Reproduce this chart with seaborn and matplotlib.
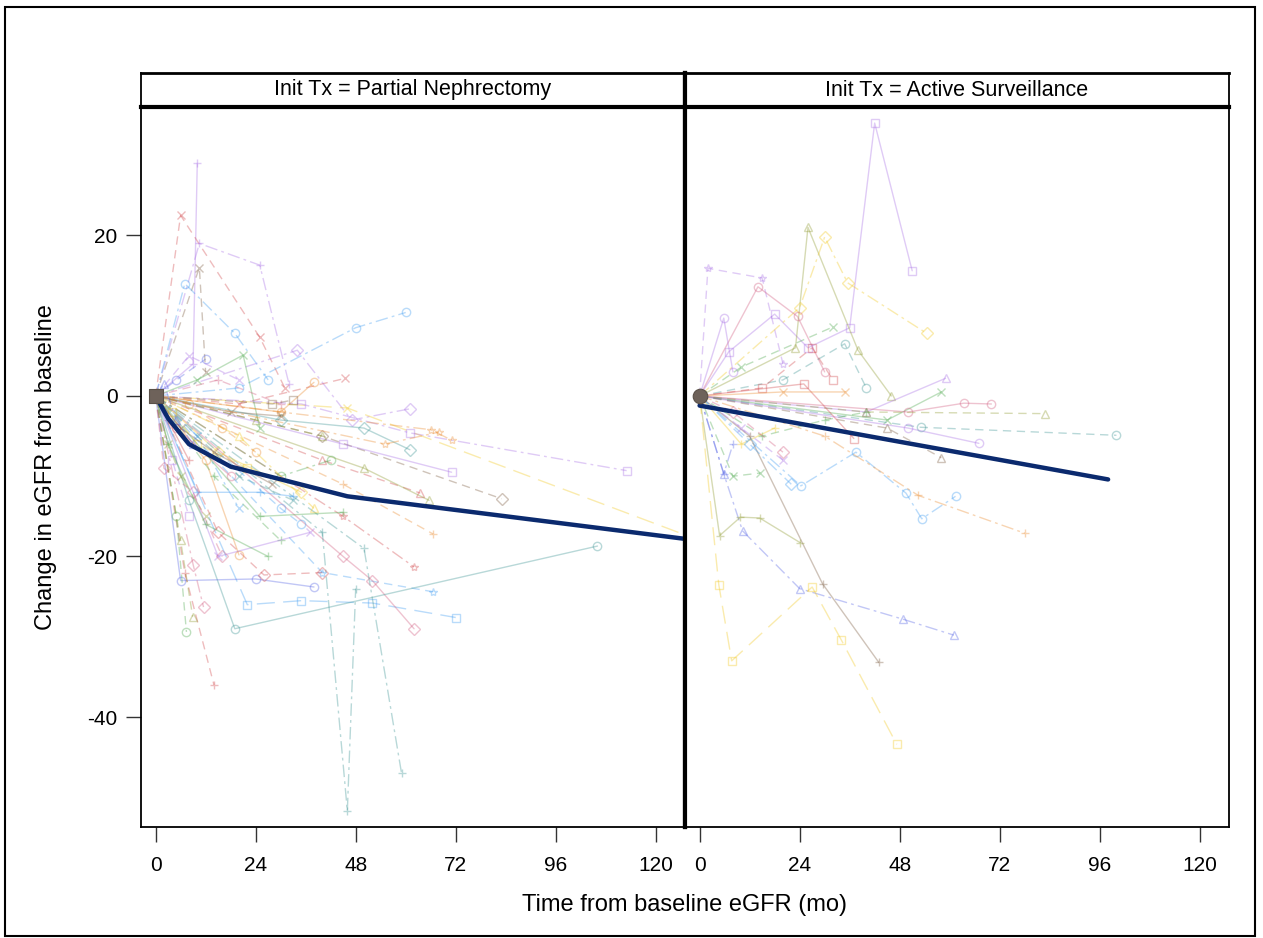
import numpy as np
import pandas as pd
import matplotlib
matplotlib.use("Agg")
import matplotlib.pyplot as plt
from matplotlib.patches import Rectangle
import seaborn as sns

sns.set_style("white")
plt.rcParams['font.family'] = ['Liberation Sans', 'DejaVu Sans']
plt.rcParams['axes.unicode_minus'] = False
plt.rcParams['text.color'] = 'black'
plt.rcParams['axes.labelcolor'] = 'black'
plt.rcParams['xtick.labelcolor'] = 'black'
plt.rcParams['ytick.labelcolor'] = 'black'

# Panels (initial treatment)
panels = ["Partial Nephrectomy", "Active Surveillance"]

# Individual patient trajectories: months, change in eGFR
pn_times = [
    [0, 9, 10], [0, 6, 25, 31], [0, 10.5, 25, 32], [0, 10.5, 12], [0, 7, 19, 27],
    [0, 20, 48, 60], [0, 34, 47, 61], [0, 20, 45.5], [0, 30, 38], [0, 10, 21, 25],
    [0, 15, 30], [0, 46, 128], [0, 35, 61, 113], [0, 30, 66, 71], [0, 40, 83],
    [0, 30, 50, 61], [0, 45, 71], [0, 40, 63.5], [0, 50, 65.6], [0, 45, 66.6],
    [0, 45, 62], [0, 40, 66.6], [0, 22, 35, 52, 72], [0, 45, 52, 62], [0, 8, 19, 106],
    [0, 6, 24, 38], [0, 7, 14], [0, 5, 7.4], [0, 6, 8.9], [0, 9, 11.5],
    [0, 40, 46, 48], [0, 50, 59], [0, 15, 26, 40], [0, 12, 20], [0, 14, 30],
    [0, 10, 20], [0, 4, 8], [0, 18, 30], [0, 24, 40], [0, 5, 12],
    [0, 15, 35], [0, 20, 33], [0, 3, 8], [0, 10, 25, 33], [0, 30, 42],
    [0, 55, 68], [0, 8, 20], [0, 28, 33], [0, 5, 18], [0, 20, 38],
    [0, 25, 45], [0, 30, 35], [0, 15, 37], [0, 3, 6, 12], [0, 2, 9, 16],
    [0, 4, 10, 22], [0, 6, 14, 28], [0, 2, 5, 9], [0, 8, 16, 24], [0, 3, 12, 27],
]
pn_change = [
    [0, 4, 29], [0, 22.5, 7.3, 1], [0, 19, 16.3, 1.5], [0, 16, 3], [0, 14, 7.8, 2],
    [0, 1, 8.5, 10.4], [0, 5.7, -3, -1.6], [0, -1, 2.2], [0, -2, 1.7], [0, 2, 5.1, -4],
    [0, 2, -1], [0, -1.5, -17.5], [0, -1, -4.6, -9.3], [0, -2, -4.2, -5.5], [0, -5, -12.8],
    [0, -3, -4, -6.7], [0, -6, -9.5], [0, -8, -12.1], [0, -9, -13], [0, -11, -17.2],
    [0, -15, -21.3], [0, -22, -24.4], [0, -26, -25.5, -25.8, -27.6], [0, -20, -23, -29], [0, -13, -29, -18.7],
    [0, -23, -22.8, -23.8], [0, -22, -36], [0, -15, -29.4], [0, -18, -27.5], [0, -21, -26.3],
    [0, -17, -51.7, -24], [0, -19, -47], [0, -17, -22.3, -22], [0, -8, -19.8], [0, -10, -18],
    [0, -5, -14], [0, -8, -15], [0, -2, -2.5], [0, -3, -5], [0, 2, 4.6],
    [0, -7, -12], [0, -10, -13], [0, -3, -8], [0, -12, -12, -12.5], [0, -10, -8],
    [0, -6, -4.5], [0, 5, 2], [0, -1, -0.5], [0, -4, -10], [0, -5, -14],
    [0, -15, -14.5], [0, -14, -16], [0, -20, -17], [0, -6, -10, -15], [0, -9, -12, -20],
    [0, -2, -6, -9], [0, -4, -7, -11], [0, 1.5, -3, -6], [0, -1, -4, -7], [0, -6, -16, -20],
]

as_times = [
    [0, 7, 18, 26, 36, 42, 51], [0, 23, 26, 38, 46], [0, 24, 30, 35.5, 54.5], [0, 2, 15, 20],
    [0, 14, 23.5, 30], [0, 5.8, 8], [0, 10, 32], [0, 20, 34.8, 40], [0, 15, 27, 32],
    [0, 40, 59], [0, 45, 58], [0, 50, 63.4, 70], [0, 40, 82.8], [0, 53, 100],
    [0, 50, 67], [0, 45, 58], [0, 25, 37], [0, 24.3, 37.5, 49.5, 53.3, 61.4], [0, 30, 52.5, 78],
    [0, 5.8, 10.3, 24, 48.7, 61], [0, 12, 29.5, 43], [0, 4.8, 9.8, 14.4, 24.2],
    [0, 4.6, 7.7, 27, 34, 47.3], [0, 5.8, 8], [0, 20, 35], [0, 15, 30, 40], [0, 10, 20],
    [0, 10, 18], [0, 8, 20], [0, 8, 14.6], [0, 12, 22],
]
as_change = [
    [0, 5.5, 10.2, 6, 8.5, 34, 15.6], [0, 6, 21, 5.7, 0], [0, 11, 19.8, 14.1, 7.8], [0, 15.9, 14.7, 4],
    [0, 13.6, 9.9, 3], [0, 9.7, 3], [0, 3.6, 8.6], [0, 2, 6.5, 1], [0, 1, 6, 2],
    [0, -2, 2.2], [0, -3, 0.5], [0, -2, -0.9, -1], [0, -2, -2.2], [0, -3.9, -4.9],
    [0, -4, -5.9], [0, -4, -7.7], [0, 1.5, -5.3], [0, -11.2, -7, -12.1, -15.3, -12.5], [0, -5, -12.4, -17.1],
    [0, -9.7, -16.8, -24, -27.8, -29.8], [0, -5, -23.4, -33.2], [0, -17.4, -15.1, -15.2, -18.3],
    [0, -23.5, -33, -23.8, -30.4, -43.4], [0, -9.7, -6], [0, 0.5, 0.5], [0, -5, -3, -2], [0, -4, -8],
    [0, -6, -4], [0, -2, -7], [0, -10, -9.6], [0, -6, -11],
]

# Mean trend per panel
pn_mean_time = [0, 3, 8, 18, 46, 130]
pn_mean_change = [0, -2.8, -6.0, -8.8, -12.5, -18.0]
as_mean_time = [0, 98]
as_mean_change = [-1.2, -10.4]

# Look of each patient line: colour key, marker, line pattern
pn_color = ['lav', 'red', 'lav', 'brown', 'lblue', 'lblue', 'lav', 'red', 'orange', 'grn',
            'pink', 'yel', 'lav', 'orange', 'brown', 'teal', 'lav', 'red', 'olive', 'orange',
            'red', 'lblue', 'lblue', 'pink', 'teal', 'blue', 'red', 'grn', 'olive', 'pink',
            'teal', 'teal', 'red', 'orange', 'grn', 'lblue', 'lav', 'brown', 'olive', 'blue',
            'yel', 'teal', 'red', 'lblue', 'grn', 'orange', 'lav', 'brown', 'pink', 'yel',
            'grn', 'lblue', 'lav', 'olive', 'pink',
            'yel', 'brown', 'blue', 'orange', 'grn']
pn_marker = ['+', 'x', '+', 'x', 'o', 'o', 'D', 'x', 'o', 'x',
             '+', 'x', 's', '*', 'D', 'D', 's', '^', '^', '+',
             '*', '*', 's', 'D', 'o', 'o', '+', 'o', '^', 'D',
             '+', '+', 'D', 'o', '+', 'x', 's', 'x', '^', 'o',
             'D', 'x', '+', '+', 'o', '*', 'x', 's', 'o', '^',
             '+', 'o', 'x', 'x', 'D',
             's', 'x', '^', 'o', '+']
pn_line = ['solid', 'dash', 'dashdot', 'dash', 'dashdot', 'dashdot', 'dashdot', 'dash', 'solid', 'solid',
           'dash', 'longdash', 'dashdot', 'dashdot', 'dash', 'solid', 'solid', 'dash', 'solid', 'dash',
           'dashdot', 'dash', 'longdash', 'solid', 'solid', 'solid', 'dash', 'dash', 'dash', 'dashdot',
           'dashdot', 'dashdot', 'dash', 'solid', 'dash', 'dashdot', 'dash', 'solid', 'dash', 'dash',
           'solid', 'dash', 'solid', 'solid', 'dashdot', 'dashdot', 'dash', 'dash', 'solid', 'dashdot',
           'solid', 'dash', 'solid', 'longdash', 'dash',
           'dash', 'solid', 'dashdot', 'dash', 'solid']

as_color = ['lav', 'olive', 'yel', 'lav', 'pink', 'lav', 'grn', 'teal', 'red', 'lav',
            'grn', 'pink', 'olive', 'teal', 'lav', 'brown', 'red', 'lblue', 'orange', 'blue',
            'brown', 'olive', 'yel', 'blue', 'orange', 'grn', 'lav', 'yel', 'pink', 'grn', 'lblue']
as_marker = ['s', '^', 'D', '*', 'o', 'o', 'x', 'o', 's', '^',
             'x', 'o', '^', 'o', 'o', '^', 's', 'o', '+', '^',
             '+', '+', 's', '+', 'x', '+', 'x', '+', 'D', 'x', 'D']
as_line = ['solid', 'solid', 'dashdot', 'dash', 'solid', 'solid', 'dash', 'dash', 'dash', 'solid',
           'solid', 'solid', 'dash', 'dash', 'solid', 'dash', 'solid', 'dashdot', 'dashdot', 'dashdot',
           'solid', 'solid', 'longdash', 'dashdot', 'solid', 'dash', 'dash', 'solid', 'dash', 'dash', 'dashdot']

palette = {'lav': '#A86FE6', 'red': '#D2464A', 'lblue': '#3F9CF2', 'yel': '#F2C81E',
           'grn': '#4CA84C', 'teal': '#3C9494', 'olive': '#8E9A2E', 'brown': '#7A5A3E',
           'pink': '#D25A7E', 'orange': '#EB8A2C', 'blue': '#5564E6'}
patterns = {'solid': '-', 'dash': (0, (6, 4)), 'dashdot': (0, (9, 3, 2, 3)),
            'longdash': (0, (13, 6))}


def long_table(times, change, name):
    rows = []
    for i, (t, v) in enumerate(zip(times, change)):
        for tt, vv in zip(t, v):
            rows.append((name, i, tt, vv))
    return pd.DataFrame(rows, columns=["panel", "patient", "time", "change"])


df = pd.concat([long_table(pn_times, pn_change, panels[0]),
                long_table(as_times, as_change, panels[1])])
looks = {panels[0]: (pn_color, pn_marker, pn_line), panels[1]: (as_color, as_marker, as_line)}

W, H = 1263, 938
fig = plt.figure(figsize=(W / 100, H / 100), dpi=100)

ax_l = fig.add_axes([141 / W, 1 - 827 / H, 544 / W, 720 / H])
ax_r = fig.add_axes([685 / W, 1 - 827 / H, 544 / W, 720 / H])

means = {panels[0]: (pn_mean_time, pn_mean_change), panels[1]: (as_mean_time, as_mean_change)}
base_marker = {panels[0]: 's', panels[1]: 'o'}

for ax, name in zip([ax_l, ax_r], panels):
    sub = df[df.panel == name]
    cols, mks, lns = looks[name]
    for pid, g in sub.groupby("patient"):
        c = palette[cols[pid]]
        sns.lineplot(data=g, x="time", y="change", ax=ax, estimator=None, sort=False,
                     color=c, linestyle=patterns[lns[pid]],
                     marker=mks[pid], markersize=6, markerfacecolor='none',
                     markeredgewidth=1.0, markeredgecolor=c,
                     linewidth=1.0, alpha=0.36, legend=False)
    mt, mc = means[name]
    sns.lineplot(x=mt, y=mc, ax=ax, color='#0B2A6E', linewidth=3.2, estimator=None,
                 sort=False, legend=False, zorder=5)
    sns.scatterplot(x=[0], y=[0], ax=ax, marker=base_marker[name], s=110,
                    color='#6E625A', edgecolor='#5A5048', linewidth=0.8, zorder=6, legend=False)

    ax.set_xlim(-3.5, 127)
    ax.set_ylim(-53.7, 36)
    ax.set_xticks([0, 24, 48, 72, 96, 120])
    ax.tick_params(axis='x', direction='out', length=11, width=1.0, labelsize=15, pad=10,
                   bottom=True, color='#333333')
    ax.set_xlabel("")
    ax.set_ylabel("")
    for s in ax.spines.values():
        s.set_color('black')
        s.set_linewidth(1.3)

ax_l.set_yticks([20, 0, -20, -40])
ax_l.tick_params(axis='y', direction='out', length=11, width=1.0, labelsize=15, pad=6,
                 left=True, color='#333333')
ax_r.set_yticks([])
ax_l.spines['right'].set_linewidth(3)
ax_r.spines['left'].set_linewidth(3)

ax_l.set_ylabel("Change in eGFR from baseline", fontsize=17, labelpad=22)
fig.text(685 / W, 1 - 905 / H, "Time from baseline eGFR (mo)", ha='center', va='center', fontsize=17)

# facet header strips
for x0, name in zip([141, 685], panels):
    st = fig.add_axes([x0 / W, 1 - 107 / H, 544 / W, 34 / H])
    st.set_xticks([])
    st.set_yticks([])
    for s in st.spines.values():
        s.set_linewidth(1.3)
        s.set_color('black')
    st.spines['top'].set_linewidth(2)
    st.spines['bottom'].set_linewidth(3)
    if x0 == 141:
        st.spines['right'].set_linewidth(3)
    else:
        st.spines['left'].set_linewidth(3)
    st.text(0.5, 0.5, "Init Tx = " + name, ha='center', va='center', fontsize=15.5,
            transform=st.transAxes)

# outer frame
fig.patches.append(Rectangle((5 / W, 1 - 936 / H), 1250 / W, 929 / H, transform=fig.transFigure,
                             fill=False, edgecolor='black', linewidth=1.5))

fig.savefig("out.png", dpi=100)
